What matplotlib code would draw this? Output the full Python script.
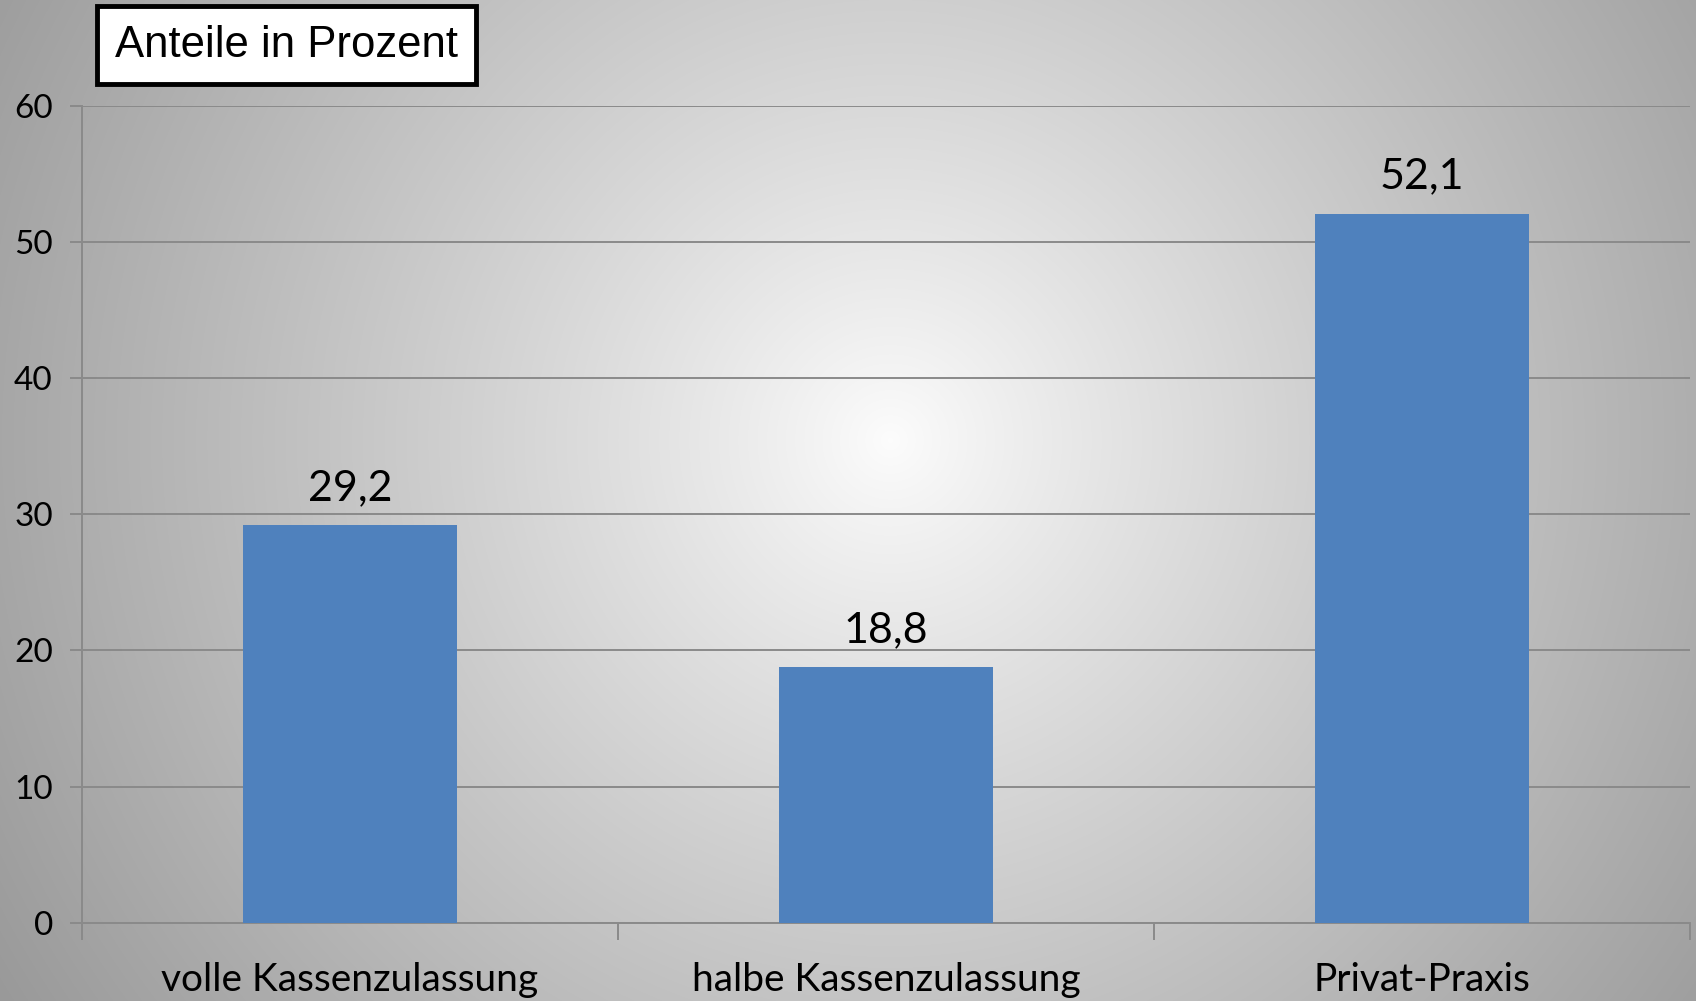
import numpy as np
import matplotlib
matplotlib.use("Agg")
import matplotlib.pyplot as plt

categories = ["volle Kassenzulassung", "halbe Kassenzulassung", "Privat-Praxis"]
values = [29.2, 18.8, 52.1]
value_labels = ["29,2", "18,8", "52,1"]
yticks = [0, 10, 20, 30, 40, 50, 60]
title = "Anteile in Prozent"

W, H = 1696, 1001
fig = plt.figure(figsize=(W / 100, H / 100), dpi=100)

# radial gradient background
bg = fig.add_axes([0, 0, 1, 1], zorder=-10)
yy, xx = np.mgrid[0:H, 0:W]
cx, cy = 890, 440
r = np.sqrt(((xx - cx) / (W * 0.62)) ** 2 + ((yy - cy) / (W * 0.62)) ** 2)
r = np.clip(r, 0, 1)
g = 0.99 - 0.39 * r ** 0.9
img = np.dstack([g, g, g])
bg.imshow(img, aspect="auto", extent=[0, 1, 0, 1], origin="upper")
bg.axis("off")

ax = fig.add_axes([0.0483, 0.0783, 0.9482, 0.8157])
ax.patch.set_alpha(0)
x = np.arange(len(categories))
ax.bar(x, values, width=0.4, color="#4F81BD", zorder=3)
ax.set_xlim(-0.5, len(categories) - 0.5)
ax.set_ylim(0, 60)
ax.set_yticks(yticks)
ax.set_yticklabels([str(t) for t in yticks], fontsize=24, family="Lato")
ax.yaxis.grid(True, color="#8a8a8a", linewidth=1.4, zorder=0)
ax.set_axisbelow(True)
for s in ["top", "right"]:
    ax.spines[s].set_visible(False)
for s in ["left", "bottom"]:
    ax.spines[s].set_color("#8a8a8a")
    ax.spines[s].set_linewidth(1.4)
ax.tick_params(axis="y", length=9, width=1.4, color="#8a8a8a", pad=12)

# category boundaries as major ticks, labels at centers as minor ticks
ax.set_xticks(np.arange(-0.5, len(categories), 1.0))
ax.set_xticklabels([])
ax.tick_params(axis="x", which="major", length=12, width=1.4, color="#8a8a8a")
ax.set_xticks(x, minor=True)
ax.set_xticklabels(categories, minor=True, fontsize=28, family="Lato")
ax.tick_params(axis="x", which="minor", length=0, pad=28)

for xi, v, lab in zip(x, values, value_labels):
    ax.annotate(lab, (xi, v), xytext=(0, 13), textcoords="offset points",
                ha="center", va="bottom", fontsize=31, family="Lato")

fig.text(0.169, 0.955, title, ha="center", va="center", fontsize=31.5,
         family="Liberation Sans",
         bbox=dict(boxstyle="square,pad=0.42", facecolor="white",
                   edgecolor="black", linewidth=3.5))

fig.savefig("out.png", dpi=100)
